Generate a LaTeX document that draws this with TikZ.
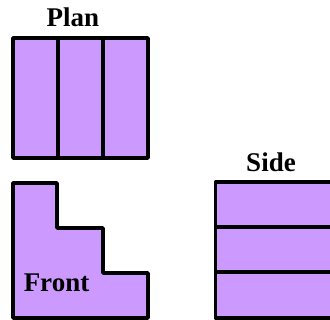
\documentclass[tikz,border=0pt]{standalone}
\usepackage{fontspec}
\setmainfont{Liberation Serif}
\begin{document}
\begin{tikzpicture}[x=1pt,y=-1pt]
\definecolor{lilas}{RGB}{204,153,255}
\tikzstyle{bloc}=[draw=black,fill=lilas,line width=3.6pt,line join=round]
\tikzset{titre/.style={font=\bfseries\fontsize{27}{27}\selectfont,inner sep=0pt,anchor=base}}
\useasboundingbox (0,0) rectangle (330,320);
\clip (0,0) rectangle (330,320);
% plan
\draw [bloc] (13,38) rectangle (58,158);
\draw [bloc] (58,38) rectangle (103,158);
\draw [bloc] (103,38) rectangle (148,158);
\node [titre] (plan) at (73,27) {Plan};
% front
\draw [bloc] (13,183) -- (57,183) -- (57,228) -- (103,228) -- (103,273) -- (148,273) -- (148,318) -- (13,318) -- cycle;
\node [titre] (front) at (56.5,292) {Front};
% side
\draw [bloc] (215.5,182) rectangle (336,227);
\draw [bloc] (215.5,227) rectangle (336,272);
\draw [bloc] (215.5,272) rectangle (336,318);
\node [titre] (side) at (271,172) {Side};
\end{tikzpicture}
\end{document}
